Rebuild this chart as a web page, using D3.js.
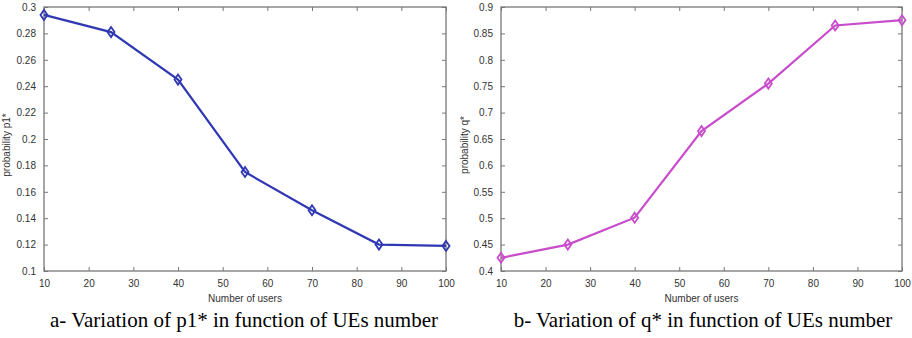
<!DOCTYPE html>
<html>
<head>
<meta charset="utf-8">
<script src="https://cdn.jsdelivr.net/npm/d3@7"></script>
<style>
  body { margin: 0; background: #fff; }
  svg { display: block; }
  .tick text { font-family: "Liberation Sans", Arial, sans-serif; font-size: 10px; fill: #333; }
  .axlabel { font-family: "Liberation Sans", Arial, sans-serif; font-size: 10px; fill: #333; }
  .caption { font-family: "Liberation Serif", "Times New Roman", serif; font-size: 21px; fill: #000; }
</style>
</head>
<body>
<div id="chart"></div>
<script>
// data
var users = [10, 25, 40, 55, 70, 85, 100];
var p1Values = [0.294, 0.281, 0.245, 0.175, 0.146, 0.120, 0.119];
var qValues = [0.425, 0.450, 0.501, 0.665, 0.755, 0.865, 0.875];
var xTicks = [10, 20, 30, 40, 50, 60, 70, 80, 90, 100];
var p1Ticks = [0.1, 0.12, 0.14, 0.16, 0.18, 0.2, 0.22, 0.24, 0.26, 0.28, 0.3];
var qTicks = [0.4, 0.45, 0.5, 0.55, 0.6, 0.65, 0.7, 0.75, 0.8, 0.85, 0.9];

var svgWidth = 912;
var svgHeight = 338;

var svg = d3.select("#chart").append("svg")
    .attr("width", svgWidth)
    .attr("height", svgHeight);

var plotTop = 7, plotBottom = 271;

// draws one matlab-style panel
function drawPanel(opts) {
    var xScale = d3.scaleLinear().domain([10, 100]).range([opts.left, opts.right]);
    var yScale = d3.scaleLinear().domain(opts.yDomain).range([plotBottom, plotTop]);

    var g = svg.append("g");
    var axisColor = "#777";

    // box
    g.append("rect")
        .attr("x", opts.left)
        .attr("y", plotTop)
        .attr("width", opts.right - opts.left)
        .attr("height", plotBottom - plotTop)
        .attr("fill", "none")
        .attr("stroke", axisColor)
        .attr("stroke-width", 1.3);

    // axes, ticks pointing inward
    var bottomAxis = d3.axisBottom(xScale).tickValues(xTicks).tickSizeInner(-4).tickSizeOuter(0).tickPadding(9).tickFormat(d3.format("d"));
    var gx = g.append("g").attr("transform", `translate(0, ${plotBottom})`).call(bottomAxis);
    var topAxis = d3.axisTop(xScale).tickValues(xTicks).tickSizeInner(-4).tickSizeOuter(0).tickFormat("");
    var gxt = g.append("g").attr("transform", `translate(0, ${plotTop})`).call(topAxis);

    var leftAxis = d3.axisLeft(yScale).tickValues(opts.yTicks).tickSizeInner(-4).tickSizeOuter(0).tickPadding(8).tickFormat(d => +d.toFixed(2) + "");
    var gy = g.append("g").attr("transform", `translate(${opts.left}, 0)`).call(leftAxis);
    var rightAxis = d3.axisRight(yScale).tickValues(opts.yTicks).tickSizeInner(-4).tickSizeOuter(0).tickFormat("");
    var gyr = g.append("g").attr("transform", `translate(${opts.right}, 0)`).call(rightAxis);

    [gx, gxt, gy, gyr].forEach(a => {
        a.select(".domain").remove();
        a.selectAll(".tick line").attr("stroke", axisColor);
    });

    // line
    var line = d3.line()
        .x((d, i) => xScale(users[i]))
        .y(d => yScale(d));

    g.append("path")
        .datum(opts.values)
        .attr("d", line)
        .attr("fill", "none")
        .attr("stroke", opts.color)
        .attr("stroke-width", 2.2);

    // diamond markers
    g.selectAll(".mk")
        .data(opts.values)
        .enter()
        .append("path")
        .attr("class", "mk")
        .attr("transform", (d, i) => `translate(${xScale(users[i])}, ${yScale(d)})`)
        .attr("d", "M0,-5L3.5,0L0,5L-3.5,0Z")
        .attr("fill", "none")
        .attr("stroke", opts.color)
        .attr("stroke-width", 1.8);

    // axis labels
    g.append("text")
        .attr("class", "axlabel")
        .attr("x", (opts.left + opts.right) / 2)
        .attr("y", 302)
        .attr("text-anchor", "middle")
        .text("Number of users");

    g.append("text")
        .attr("class", "axlabel")
        .attr("transform", `translate(${opts.yLabelX}, ${(plotTop + plotBottom) / 2 + 6}) rotate(-90)`)
        .attr("text-anchor", "middle")
        .attr("dy", "0.35em")
        .text(opts.yLabel);

    // caption
    svg.append("text")
        .attr("class", "caption")
        .attr("x", opts.captionX)
        .attr("y", 327)
        .attr("text-anchor", "middle")
        .text(opts.caption);
}

drawPanel({
    left: 44, right: 446,
    yDomain: [0.1, 0.3], yTicks: p1Ticks,
    values: p1Values, color: "#2f38b2",
    yLabel: "probability p1*", yLabelX: 6,
    caption: "a- Variation of p1* in function of UEs number", captionX: 244
});

drawPanel({
    left: 501, right: 902,
    yDomain: [0.4, 0.9], yTicks: qTicks,
    values: qValues, color: "#c84ccb",
    yLabel: "probability q*", yLabelX: 464,
    caption: "b- Variation of q* in function of UEs number", captionX: 703
});
</script>
</body>
</html>
